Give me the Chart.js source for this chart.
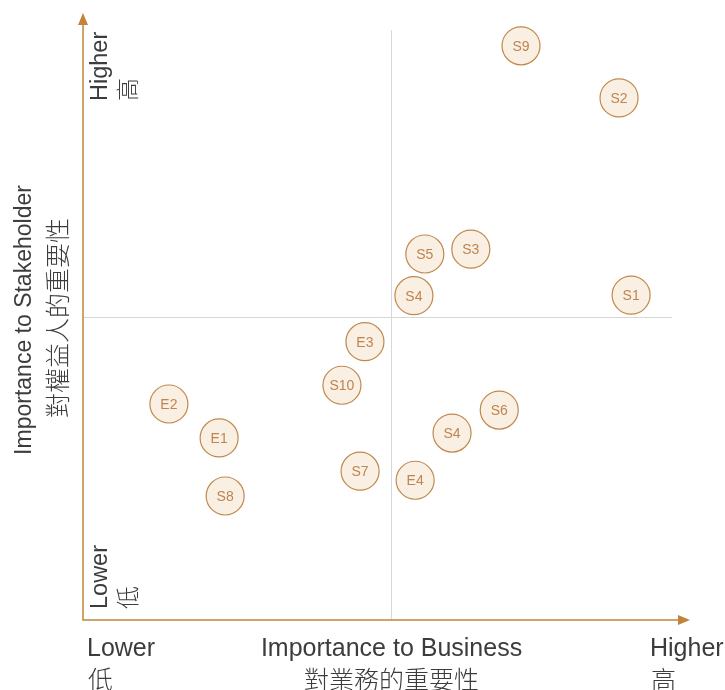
<!DOCTYPE html>
<html lang="zh-Hant">
<head>
    <meta charset="UTF-8">
    <title>Materiality Matrix</title>
    <script src="https://cdn.jsdelivr.net/npm/chart.js"></script>
    <style>
        body { margin: 0; background: #fff; }
        #wrap { width: 725px; height: 690px; }
    </style>
</head>
<body>
    <div id="wrap"><canvas id="matrix" width="725" height="690"></canvas></div>

    <script>
        // topics and scores (0-100, business importance / stakeholder importance)
        const topics = ["S9", "S2", "S5", "S3", "S4", "S1", "E3", "S10", "E2", "S6", "E1", "S4", "S7", "E4", "S8"];
        const businessScore = [72.4, 88.6, 56.5, 64.1, 54.7, 90.6, 46.6, 42.8, 14.2, 68.8, 22.5, 61.0, 45.8, 54.9, 23.5];
        const stakeholderScore = [94.9, 86.3, 60.5, 61.3, 53.6, 53.7, 46.0, 38.8, 35.7, 34.7, 30.1, 30.9, 24.6, 23.1, 20.5];

        const divideX = 51;
        const divideY = 50;

        const axisColor = "#c0853a";
        const textColor = "#3c3c3c";
        const latin = size => `300 ${size}px 'Liberation Sans', 'Noto Sans CJK TC', sans-serif`;
        const cjk = size => `300 ${size}px 'Noto Sans CJK TC', 'Noto Sans CJK SC', sans-serif`;

        const points = topics.map((t, i) => ({ x: businessScore[i], y: stakeholderScore[i] }));

        const matrixPlugin = {
            id: "matrix",
            beforeDatasetsDraw(chart) {
                const { ctx, chartArea: a, scales: { x, y } } = chart;
                const mx = x.getPixelForValue(divideX);
                const my = y.getPixelForValue(divideY);
                ctx.save();
                ctx.strokeStyle = "#d6d6d6";
                ctx.lineWidth = 1;
                ctx.beginPath();
                ctx.moveTo(mx, y.getPixelForValue(97.5));
                ctx.lineTo(mx, a.bottom);
                ctx.moveTo(a.left, my);
                ctx.lineTo(x.getPixelForValue(97.4), my);
                ctx.stroke();

                // axes with arrows
                ctx.strokeStyle = axisColor;
                ctx.fillStyle = axisColor;
                ctx.lineWidth = 1.5;
                ctx.beginPath();
                ctx.moveTo(a.left, a.top + 4);
                ctx.lineTo(a.left, a.bottom);
                ctx.lineTo(a.right - 4, a.bottom);
                ctx.stroke();
                ctx.beginPath();
                ctx.moveTo(a.left, a.top - 2);
                ctx.lineTo(a.left - 5, a.top + 10);
                ctx.lineTo(a.left + 5, a.top + 10);
                ctx.closePath();
                ctx.fill();
                ctx.beginPath();
                ctx.moveTo(a.right + 2, a.bottom);
                ctx.lineTo(a.right - 10, a.bottom - 5);
                ctx.lineTo(a.right - 10, a.bottom + 5);
                ctx.closePath();
                ctx.fill();

                // x axis texts
                ctx.fillStyle = textColor;
                ctx.textBaseline = "middle";
                ctx.textAlign = "center";
                ctx.font = latin(25);
                ctx.fillText("Importance to Business", mx, 649);
                ctx.font = cjk(25);
                ctx.fillText("對業務的重要性", mx, 679);
                ctx.textAlign = "left";
                ctx.font = latin(25);
                ctx.fillText("Lower", 87, 649);
                ctx.fillText("Higher", 650, 649);
                ctx.font = cjk(25);
                ctx.fillText("低", 88, 679);
                ctx.fillText("高", 651, 679);

                // y axis texts (rotated)
                const vtext = (txt, font, cx, cy, align) => {
                    ctx.save();
                    ctx.translate(cx, cy);
                    ctx.rotate(-Math.PI / 2);
                    ctx.font = font;
                    ctx.textAlign = align;
                    ctx.fillText(txt, 0, 0);
                    ctx.restore();
                };
                vtext("Importance to Stakeholder", latin(23), 25, 320, "center");
                vtext("對權益人的重要性", cjk(25), 57, 318, "center");
                vtext("Higher", latin(23.5), 101, 101, "left");
                vtext("高", cjk(23), 127, 101, "left");
                vtext("Lower", latin(23.5), 101, 609, "left");
                vtext("低", cjk(23), 127, 609, "left");
                ctx.restore();
            },
            afterDatasetsDraw(chart) {
                const { ctx } = chart;
                const meta = chart.getDatasetMeta(0);
                ctx.save();
                ctx.fillStyle = "#bf8550";
                ctx.font = "14px 'Liberation Sans', sans-serif";
                ctx.textAlign = "center";
                ctx.textBaseline = "middle";
                meta.data.forEach((el, i) => {
                    ctx.fillText(topics[i], el.x, el.y + 1);
                });
                ctx.restore();
            }
        };

        new Chart(document.getElementById("matrix"), {
            type: "scatter",
            data: {
                datasets: [{
                    data: points,
                    pointRadius: 19,
                    pointHoverRadius: 19,
                    backgroundColor: "#f9efe3",
                    borderColor: "#c08a4e",
                    borderWidth: 1.2
                }]
            },
            options: {
                responsive: false,
                animation: false,
                layout: { autoPadding: false, padding: { left: 83, top: 15, right: 37, bottom: 70 } },
                plugins: { legend: { display: false }, tooltip: { enabled: false } },
                scales: {
                    x: { type: "linear", min: 0, max: 100, display: false },
                    y: { type: "linear", min: 0, max: 100, display: false }
                }
            },
            plugins: [matrixPlugin]
        });
    </script>
</body>
</html>
